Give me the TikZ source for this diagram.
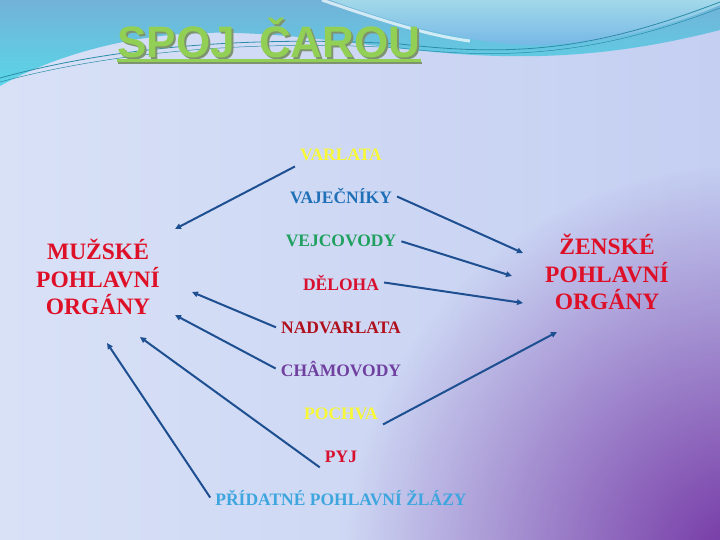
\documentclass[tikz,border=0pt]{standalone}
\usepackage{fontspec}
\setmainfont{Liberation Serif}
\newfontfamily\titlefont{Liberation Sans}
\usetikzlibrary{arrows.meta,fadings}

% colours of the slide
\definecolor{bgleft}{HTML}{D8E1F6}
\definecolor{bgright}{HTML}{C4CFF2}
\definecolor{cornerpurple}{HTML}{6E2A9E}
\definecolor{wavetop}{HTML}{72B2D8}
\definecolor{wavecyan}{HTML}{5AD6E8}
\definecolor{swooshtop}{HTML}{A2D8E8}
\definecolor{swooshlow}{HTML}{76B8E6}
\definecolor{waveline}{HTML}{2A8CA8}
\definecolor{titlegreen}{HTML}{92CF55}
\definecolor{titleshade}{HTML}{7E9470}
\definecolor{linkblue}{HTML}{1D4F91}
\definecolor{organred}{HTML}{DE1028}
\definecolor{wyellow}{HTML}{F8F836}
\definecolor{wblue}{HTML}{2070B8}
\definecolor{wgreen}{HTML}{1FA05E}
\definecolor{wred}{HTML}{D81030}
\definecolor{wdarkred}{HTML}{B0101C}
\definecolor{wpurple}{HTML}{7040A0}
\definecolor{wlight}{HTML}{3EA6DE}

\tikzfading[name=cornerfade, inner color=transparent!0, outer color=transparent!100]

\begin{document}
\begin{tikzpicture}[x=1pt, y=-1pt,
    word/.style={font=\bfseries\fontsize{17.5}{20}\selectfont, inner sep=5pt, anchor=base},
    organ/.style={font=\bfseries\fontsize{23.5}{27.5}\selectfont, text=organred, align=center, inner sep=0pt},
    titletext/.style={font=\titlefont\bfseries\fontsize{44}{50}\selectfont, inner sep=0pt, anchor=base},
    link/.style={draw=linkblue, line width=2pt, -{Triangle[length=6pt,width=5.5pt]}}]

% Background of the slide
\useasboundingbox (0,0) rectangle (720,540);
\shade[left color=bgleft, right color=bgright] (0,0) rectangle (720,540);
\fill[cornerpurple, path fading=cornerfade, opacity=0.95] (745,565) circle (400);

% Waves at the top
\shade[top color=wavetop, bottom color=wavecyan]
    (0,0) -- (720,0) -- (720,30) .. controls (650,48) and (580,58) .. (500,56)
    .. controls (400,54) and (300,30) .. (200,33)
    .. controls (120,36) and (50,58) .. (0,86) -- cycle;
\shade[top color=swooshtop, bottom color=swooshlow]
    (330,0) .. controls (400,25) and (470,45) .. (540,45)
    .. controls (620,44) and (690,18) .. (720,5) -- (720,0) -- cycle;
\draw[white, line width=3pt, opacity=0.7] (322,0) .. controls (380,20) and (430,36) .. (470,41);
\draw[waveline, line width=0.8pt] (0,78) .. controls (120,45) and (260,36) .. (400,44)
    .. controls (520,58) and (600,48) .. (720,2);
\draw[waveline, line width=0.5pt] (0,82) .. controls (120,50) and (260,40) .. (400,48)
    .. controls (520,62) and (610,50) .. (720,8);

% Title
\node[titletext, text=titleshade] (titleshadow) at (271,60) {SPOJ\ \ ČAROU};
\node[titletext, text=titlegreen] (title) at (269,58) {SPOJ\ \ ČAROU};
\draw[titleshade, line width=2pt] ([xshift=1pt,yshift=-5pt]title.base west) -- ([xshift=1pt,yshift=-5pt]title.base east);
\draw[titlegreen, line width=3pt] ([yshift=-2.5pt]title.base west) -- ([yshift=-2.5pt]title.base east);

% The two groups of organs
\node[organ] (male) at (98,277) {MUŽSKÉ\\POHLAVNÍ\\ORGÁNY};
\node[organ] (female) at (607,272) {ŽENSKÉ\\POHLAVNÍ\\ORGÁNY};

% Middle column of words
\foreach \name/\txt/\col/\y in {varlata/VARLATA/wyellow/161, vajecniky/VAJEČNÍKY/wblue/204,
    vejcovody/VEJCOVODY/wgreen/247, deloha/DĚLOHA/wred/290, nadvarlata/NADVARLATA/wdarkred/333,
    chamovody/CHÂMOVODY/wpurple/376, pochva/POCHVA/wyellow/419, pyj/PYJ/wred/462,
    pridatne/PŘÍDATNÉ POHLAVNÍ ŽLÁZY/wlight/505} {
    \node[word, text=\col] (\name) at (341,\y) {\txt};
}

% Arrow tips
\coordinate (tvarlata) at (175,229);
\coordinate (tvajecniky) at (523,253);
\coordinate (tvejcovody) at (512,276);
\coordinate (tdeloha) at (523,303);
\coordinate (tpochva) at (557,332);
\coordinate (tnadvarlata) at (192,292);
\coordinate (tchamovody) at (175,315);
\coordinate (tpyj) at (140,337);
\coordinate (tpridatne) at (107,343);

% Arrows
\foreach \from/\to in {varlata.south west/tvarlata, vajecniky.east/tvajecniky,
    vejcovody.east/tvejcovody, deloha.east/tdeloha, pochva.south east/tpochva,
    nadvarlata.west/tnadvarlata, chamovody.west/tchamovody,
    pyj.south west/tpyj, pridatne.west/tpridatne} {
    \draw[link] (\from) -- (\to);
}

\end{tikzpicture}
\end{document}
